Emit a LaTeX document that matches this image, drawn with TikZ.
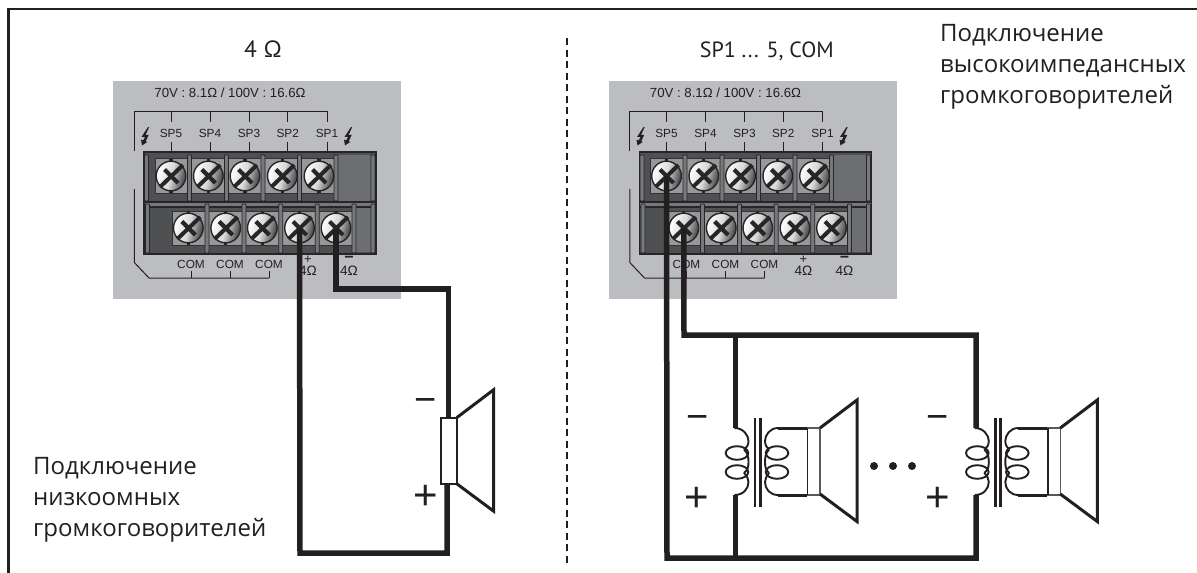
\documentclass[tikz,border=0pt]{standalone}
\usepackage{fontspec}
\setmainfont{Open Sans}
\newfontfamily\lblfont{Liberation Sans}
\newfontfamily\headfont{PT Sans}
\definecolor{ink}{HTML}{231F20}
\definecolor{panelgray}{HTML}{BCBDC0}
\definecolor{blockdark}{HTML}{4F5052}
\definecolor{blockmid}{HTML}{6D6E70}
\definecolor{plategray}{HTML}{97989B}
\definecolor{stripgray}{HTML}{77787B}
\tikzset{
  wire/.style={draw=ink,line width=5.5pt,line join=miter},
  thinline/.style={draw=ink,line width=1pt},
  spkline/.style={draw=ink,line width=3pt,line join=miter},
  coilline/.style={draw=ink,line width=1.9pt},
  heading/.style={anchor=base west,inner sep=0pt,text=ink,font=\fontsize{24}{24}\selectfont},
  title lbl/.style={anchor=base west,inner sep=0pt,text=ink,font=\headfont\fontsize{23.5}{23.5}\selectfont},
  tiny lbl/.style={inner sep=0pt,text=ink,font=\lblfont\fontsize{11.8}{11.8}\selectfont},
  sign/.style={inner sep=0pt,text=ink,font=\lblfont\fontsize{42}{42}\selectfont},
  strip/.style={fill=stripgray,draw=black!85,line width=.8pt,rounded corners=.8pt},
  bolt/.style={fill=ink,draw=none},
}
\newcommand{\onescrew}[3]{%
  \coordinate (#1) at (#2,#3);
  \fill[black!85] (#2-1.6,#3-17) rectangle (#2+1.6,#3+17);
  \draw[black!85,line width=1.4pt,shading=axial,left color=white,right color=black!75,middle color=black!15,shading angle=75] (#2,#3) circle[radius=14.8];
  \draw[black!85,line width=4pt] (#2-11,#3+11) -- (#2+12,#3-11);
  \draw[black!85,line width=4.2pt] (#2-6.5,#3-6.5) -- (#2+7,#3+7);
}
\newcommand{\flash}[2]{%
  \fill[bolt] (#1+3,#2-9) -- (#1-3.4,#2+0.8) -- (#1+0.2,#2+0.8) -- (#1-2,#2+4.6) -- (#1-4,#2+3.6) -- (#1-3,#2+9.5) -- (#1+2.4,#2+5.8) -- (#1+0.6,#2+5.4) -- (#1+3.8,#2-1.2) -- (#1+0.6,#2-1.2) -- (#1+4.2,#2-9) -- cycle;
}
\newcommand{\terminal}[2]{%
\begin{scope}[xshift=#2pt]
  \fill[panelgray] (113,81) rectangle (401,299);
  \node[tiny lbl,font=\lblfont\fontsize{13.2}{13.2}\selectfont] (#1title) at (230,93) {70V : 8.1Ω / 100V : 16.6Ω};
  % upper bracket
  \draw[thinline] (134.3,151) -- (134.3,111) -- (327,111);
  \foreach \x/\t in {171/SP5,210/SP4,249/SP3,287.7/SP2,327/SP1}{
    \draw[thinline] (\x,111) -- (\x,122);
    \draw[thinline] (\x,142) -- (\x,152);
    \node[tiny lbl] at (\x,133.5) {\t};
  }
  \flash{145}{136}
  \flash{348}{136}
  % lower bracket
  \draw[thinline] (134.3,189) -- (134.3,262.5) -- (149,278) -- (269,278);
  \foreach \x in {191,230,269}{
    \draw[thinline] (\x,278) -- (\x,271);
    \node[tiny lbl] at (\x,264) {COM};
  }
  \node[tiny lbl,font=\lblfont\fontsize{13.6}{13.6}\selectfont] at (308,271) {4Ω};
  \node[tiny lbl,font=\lblfont\fontsize{13.6}{13.6}\selectfont] at (349,271) {4Ω};
  \node[tiny lbl,font=\lblfont\fontsize{13}{13}\selectfont] at (308,259.5) {+};
  \node[tiny lbl,font=\lblfont\bfseries\fontsize{16}{16}\selectfont] at (349,259) {−};
  % block
  \fill[blockdark] (144,152) rectangle (376,254);
  \fill[blockmid] (336,155) rectangle (372,201);
  \fill[blockmid] (354,207) rectangle (372,252);
  \fill[plategray] (155,158) rectangle (336,193);
  \fill[plategray] (172.5,211) rectangle (354,245);
  \draw[black!80,line width=.7pt] (155,158) rectangle (336,193);
  \draw[black!80,line width=.7pt] (172.5,211) rectangle (354,245);
  \fill[black!85] (144,201) rectangle (376,208);
  \fill[stripgray] (144,203) rectangle (376,206);
  \foreach \x in {146.5,189.5,226.5,263,299.5,336,373}{
    \draw[strip] (\x-2,155) rectangle (\x+2,201);
  }
  \foreach \x in {147.5,207,244,280.7,317.3,354,373}{
    \draw[strip] (\x-2,204) rectangle (\x+2,253);
  }
  \draw[black!85,line width=1.4pt] (144,152) rectangle (376,254);
  \onescrew{#1t1}{171}{176}
  \onescrew{#1t2}{208.3}{176}
  \onescrew{#1t3}{245}{176}
  \onescrew{#1t4}{282.3}{176}
  \onescrew{#1t5}{319}{176}
  \onescrew{#1b1}{188.3}{228}
  \onescrew{#1b2}{225.7}{228}
  \onescrew{#1b3}{262.3}{228}
  \onescrew{#1b4}{299.5}{228}
  \onescrew{#1b5}{336}{228}
\end{scope}}
\newcommand{\cone}[2]{%
  \draw[spkline] (#1,#2-0) -- (#1+37,#2-28) -- (#1+37,#2+93.5) -- (#1,#2+66);
}
\newcommand{\xfmr}[2]{%
\begin{scope}[xshift=#2pt]
  \coordinate (#1top) at (735.7,428);
  \coordinate (#1bot) at (735.7,495);
  \draw[coilline] (734.5,428) .. controls (743,428) and (748.5,435) .. (748.5,441) .. controls (748.5,445) and (746.5,448) .. (744,449.5);
  \draw[coilline] (744,449.5) .. controls (748,453) and (748.5,458) .. (748.5,462) .. controls (748.5,466) and (748,470) .. (744,473);
  \draw[coilline] (744,473) .. controls (747,476) and (748.5,479) .. (748.5,482) .. controls (748.5,489) and (743,495) .. (734.5,495);
  \draw[coilline] (737,453) ellipse[x radius=11.3,y radius=6.8];
  \draw[coilline] (737,472) ellipse[x radius=11.3,y radius=6.8];
  \draw[draw=ink,line width=2.8pt] (755,418) -- (755,507);
  \draw[draw=ink,line width=2.8pt] (760.5,418) -- (760.5,507);
  % secondary
  \draw[coilline] (778,428) .. controls (770,428) and (765,435) .. (765,441) .. controls (765,445) and (767,448) .. (769,449.5);
  \draw[coilline] (769,449.5) .. controls (765.5,453) and (765,458) .. (765,462) .. controls (765,466) and (765.5,470) .. (769,473);
  \draw[coilline] (769,473) .. controls (766.5,476) and (765,479) .. (765,482) .. controls (765,489) and (770,495) .. (778,495);
  \draw[coilline] (777,453) ellipse[x radius=11.3,y radius=6.8];
  \draw[coilline] (777,472) ellipse[x radius=11.3,y radius=6.8];
  \draw[spkline] (778,428) -- (807,428);
  \draw[spkline] (778,495) -- (807,495);
  \draw[draw=black!65,line width=1.2pt] (807.5,428) rectangle (820,495);
  \draw[draw=ink,line width=1.8pt] (807.5,428) -- (807.5,495);
  \cone{820}{428}
  \node[sign,font=\lblfont\fontsize{38}{38}\selectfont] (#1minus) at (697.5,422) {−};
  \node[sign] (#1plus) at (697,499) {+};
\end{scope}}
\begin{document}
\begin{tikzpicture}[x=1pt,y=-1pt]
\useasboundingbox (0,0) rectangle (1197,573);
\fill[white] (0,0) rectangle (1197,573);
% frame
\coordinate (frameA) at (8.5,573);
\coordinate (frameB) at (8.5,9);
\coordinate (frameC) at (1197,9);
\draw[draw=ink,line width=2.4pt,line join=miter] (frameA) -- (frameB) -- (frameC);
% separator
\coordinate (sepA) at (567,38);
\coordinate (sepB) at (567,565);
\draw[draw=ink,line width=1.5pt,dash pattern=on 7pt off 4.5pt] (sepA) -- (sepB);
% headings
\node[title lbl] (headL) at (244,57) {4 Ω};
\node[title lbl,anchor=base east,font=\headfont\fontsize{22}{22}\selectfont] (headR) at (834,57) {SP1 ... 5, COM};
\node[heading] (rightA) at (940,41) {Подключение};
\node[heading] (rightB) at (940,72) {высокоимпедансных};
\node[heading] (rightC) at (940,103) {громкоговорителей};
\node[heading] (leftA) at (33,474) {Подключение};
\node[heading] (leftB) at (33,505) {низкоомных};
\node[heading] (leftC) at (33,536) {громкоговорителей};
% panels
\terminal{L}{0}
\terminal{R}{495.5}
% left speaker
\coordinate (LspkT) at (448.7,417.7);
\coordinate (LspkB) at (447,484);
\coordinate (LbotA) at (300,553);
\coordinate (LbotB) at (447,553);
\coordinate (LtopA) at (336,289);
\coordinate (LtopB) at (448.7,289);
\draw[wire] (Lb4) -- (LbotA) -- (LbotB) -- (LspkB);
\draw[wire] (Lb5) -- (LtopA) -- (LtopB) -- (LspkT);
\draw[draw=ink,line width=2pt,fill=white] (440.9,417.7) rectangle (456.7,484);
\cone{456.7}{417.7}
\node[sign,font=\lblfont\fontsize{38}{38}\selectfont] (Lminus) at (425.5,405) {−};
\node[sign] (Lplus) at (425.5,497) {+};
% right wiring
\xfmr{A}{0}
\xfmr{B}{240.3}
\coordinate (RtopA) at (684,335);
\coordinate (RtopB) at (976,335);
\coordinate (RtopM) at (735.7,335);
\coordinate (RbotA) at (667,558);
\coordinate (RbotB) at (976,558);
\coordinate (RbotM) at (735.7,558);
\draw[wire] (Rt1) -- (RbotA) -- (RbotB) -- (Bbot);
\draw[wire] (Rb1) -- (RtopA) -- (RtopB) -- (Btop);
\draw[wire] (RtopM) -- (Atop);
\draw[wire] (RbotM) -- (Abot);
% dots
\fill[ink] (874,466) circle[radius=4];
\fill[ink] (893,466) circle[radius=4];
\fill[ink] (912,466) circle[radius=4];
\end{tikzpicture}
\end{document}
